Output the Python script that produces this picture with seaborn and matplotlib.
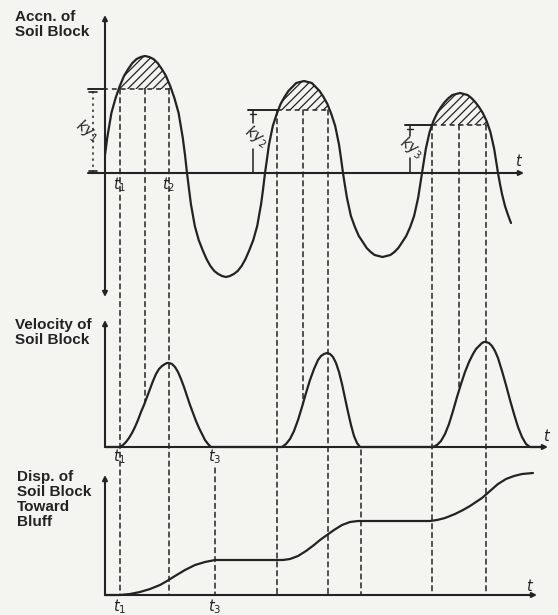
import numpy as np
import pandas as pd
import matplotlib
matplotlib.use("Agg")
import matplotlib.pyplot as plt
import seaborn as sns
from matplotlib.patches import ConnectionPatch

# ---------------- data ----------------
# time measured from the origin of the time axes (arbitrary units)
acc_t = [0, 2.2, 6.4, 10.6, 14.8, 19, 23.2, 27.4, 31.6, 35.8, 40,
         44.2, 48.4, 52.6, 56.8, 61, 65.2, 69.4, 73.6, 77.8, 80, 82,
         84, 85.9, 89.8, 93.7, 97.6, 101.5, 105.4, 109.3, 113.2, 117.1, 121,
         124.9, 128.8, 132.7, 136.6, 140.5, 144.4, 148.3, 152.2, 156.1, 158.1, 160,
         162, 163.9, 167.8, 171.7, 175.6, 179.5, 183.4, 187.3, 191.2, 195.1, 199,
         202.9, 206.8, 210.7, 214.6, 218.5, 222.4, 226.3, 230.2, 234.1, 236.1, 238,
         240, 242, 245.9, 249.9, 253.8, 257.8, 261.7, 265.7, 269.6, 273.6, 277.5,
         281.5, 285.4, 289.4, 293.3, 297.3, 301.2, 305.2, 309.1, 313.1, 315, 317,
         318.9, 320.8, 324.6, 328.4, 332.2, 336, 339.8, 343.6, 347.4, 351.2, 355,
         358.8, 362.6, 366.4, 370.2, 374, 377.8, 381.6, 385.4, 389.2, 391.1, 393,
         395, 397, 400, 403, 406]
acc_v = [18, 35, 60, 75, 87, 97, 104, 110, 114, 116, 117,
         116, 114, 110, 104, 97, 87, 75, 60, 35, 18, 0,
         -16, -31, -53, -67, -77, -86, -93, -98, -101, -103, -104,
         -103, -101, -98, -93, -86, -77, -67, -53, -31, -16, 0,
         14, 28, 47, 59, 69, 76, 82, 86, 90, 91, 92,
         91, 90, 86, 82, 76, 69, 59, 47, 28, 14, 0,
         -13, -25, -43, -54, -63, -69, -75, -79, -82, -83, -84,
         -83, -82, -79, -75, -69, -63, -54, -43, -25, -13, 0,
         12, 24, 41, 52, 60, 66, 71, 75, 78, 79, 80,
         79, 78, 75, 71, 66, 60, 52, 41, 24, 12, 0,
         -11, -21, -33, -42, -50]

vel_t = [0, 15, 18, 21, 24, 27, 30, 33, 36, 39, 42, 45, 48, 51, 54, 57, 60, 62, 64, 67, 70,
         73, 76, 79, 82, 85, 88, 91, 94, 97, 100, 103, 106,
         177, 181, 185, 189, 193, 197, 201, 205, 209, 213, 216, 219, 222, 225, 228, 231,
         234, 237, 240, 243, 246, 249, 252, 255,
         328, 332, 336, 340, 344, 348, 352, 356, 360, 364, 368, 371, 374, 377, 379, 381,
         384, 387, 390, 393, 397, 401, 405, 409, 413, 417, 421, 425, 440]
vel_v = [0, 0, 2, 5, 9, 14, 20, 27, 35, 42, 50, 58, 66, 73, 78, 81, 83, 84, 84, 83, 80,
         75, 68, 60, 51, 42, 34, 26, 19, 13, 7, 3, 0,
         0, 3, 8, 16, 27, 40, 54, 67, 78, 87, 91, 93, 94, 93, 90, 84,
         75, 63, 49, 35, 22, 11, 4, 0,
         0, 2, 6, 13, 23, 36, 50, 63, 75, 85, 93, 98, 101, 104, 105, 105,
         104, 101, 96, 89, 76, 62, 47, 33, 20, 10, 3, 0, 0]

disp_t = [0, 15, 25, 35, 45, 55, 62, 70, 80, 90, 100, 110, 125, 145, 165, 178, 185, 193, 201,
          209, 215, 222, 229, 237, 245, 253, 265, 285, 305, 325, 332, 340, 350, 358, 365, 371,
          377, 385, 393, 401, 409, 417, 428]
disp_v = [0, 0, 1, 3, 6, 10, 14, 19, 25, 30, 33, 35, 35, 35, 35, 35, 36, 39, 44,
          50, 55, 60, 65, 70, 73, 74, 74, 74, 74, 74, 75, 77, 81, 85, 89, 93,
          97, 104, 111, 116, 119, 121, 122]

ky_values = [84, 63, 48]          # yield accelerations ky1, ky2, ky3
ky_labels = ["$ky_1$", "$ky_2$", "$ky_3$"]
t_start = [15, 172, 327]          # t1 of each pulse
t_peak = [40, 198, 354]           # time of peak acceleration
t_end = [64, 223, 381]            # t2 of each pulse
t_stop = [110, 256]               # t3 (block stops)

panel_titles = ["Accn. of\nSoil Block", "Velocity of\nSoil Block",
                "Disp. of\nSoil Block\nToward\nBluff"]

# ---------------- style ----------------
sns.set_theme(style="white")
plt.rcParams["font.family"] = ["Liberation Sans", "DejaVu Sans"]
plt.rcParams["hatch.linewidth"] = 0.9
INK = "#232323"
BG = "#f4f4f1"
DASH = (0, (3.2, 2.6))
W, H = 558, 615

fig = plt.figure(figsize=(W / 100, H / 100), dpi=100)
fig.patch.set_facecolor(BG)


def rect(top, bottom):
    return [0, 1 - bottom / H, 1, (bottom - top) / H]


ax_a = fig.add_axes(rect(0, 300))
ax_a.set_xlim(-105, 453); ax_a.set_ylim(-127, 173)
ax_v = fig.add_axes(rect(300, 462))
ax_v.set_xlim(-105, 453); ax_v.set_ylim(-15, 147)
ax_d = fig.add_axes(rect(462, 615))
ax_d.set_xlim(-105, 453); ax_d.set_ylim(-20, 133)
for ax in (ax_a, ax_v, ax_d):
    ax.set_axis_off()
    ax.patch.set_alpha(0)


def arrow(ax, start, end, style="-|>"):
    ax.annotate("", xy=end, xytext=start, annotation_clip=False,
                arrowprops=dict(arrowstyle=style, color=INK, lw=1.5,
                                mutation_scale=7, shrinkA=0, shrinkB=0))


# axes with arrows
arrow(ax_a, (0, -124), (0, 158), "<|-|>")
arrow(ax_a, (-17, 0), (419, 0))
arrow(ax_v, (0, 0), (0, 127))
arrow(ax_v, (0, 0), (443, 0))
arrow(ax_d, (0, 0), (0, 120))
arrow(ax_d, (0, 0), (432, 0))

# curves
line_kw = dict(color=INK, lw=1.6, sort=False, estimator=None)
sns.lineplot(x=acc_t, y=acc_v, ax=ax_a, **line_kw)
sns.lineplot(x=vel_t, y=vel_v, ax=ax_v, **line_kw)
sns.lineplot(x=disp_t, y=disp_v, ax=ax_d, **line_kw)
for ax in (ax_a, ax_v, ax_d):
    for ln in ax.get_lines():
        ln.set_solid_joinstyle("round")

# hatched areas above the yield acceleration
ta = np.array(acc_t, float)
va = np.array(acc_v, float)
for ky, ts, te in zip(ky_values, t_start, t_end):
    region = (ta >= ts - 9) & (ta <= te + 9)
    ax_a.fill_between(ta, va, ky, where=region & (va >= ky), interpolate=True,
                      facecolor="none", edgecolor=INK, hatch="////", linewidth=0)

# yield level lines and ky dimension marks
dim_t = [-12, 148, 305]
label_pos = [(-17, 43), (151, 37), (307, 26)]
gaps = [0, 13, 11]
for i, ky in enumerate(ky_values):
    d = dim_t[i]
    solid_end = d + 10 if i == 0 else t_start[i]
    ax_a.plot([d - 5, solid_end], [ky, ky], color=INK, lw=1.4)
    ax_a.plot([solid_end, t_end[i]], [ky, ky], color=INK, lw=1.1, ls=DASH)
    lx, lv = label_pos[i]
    if i == 0:
        ax_a.plot([d, d], [0, ky], color=INK, lw=1.1, ls=(0, (1.5, 2.5)))
        ax_a.plot([d - 4, d + 4], [ky - 3, ky - 3], color=INK, lw=1.2)
        ax_a.plot([d - 4, d + 4], [2, 2], color=INK, lw=1.2)
    else:
        ax_a.plot([d, d], [ky, lv + gaps[i]], color=INK, lw=1.1)
        ax_a.plot([d, d], [lv - gaps[i], 0], color=INK, lw=1.1)
        ax_a.plot([d - 3, d + 3], [ky - 4, ky - 4], color=INK, lw=1.0)
    ax_a.text(lx, lv, ky_labels[i], rotation=-35, ha="center", va="center",
              fontsize=10.5, color=INK)

# dashed construction lines running through the panels
vt = np.array(vel_t, float)
vv = np.array(vel_v, float)
cp_kw = dict(color=INK, lw=1.1, linestyle=DASH, shrinkA=0, shrinkB=0)
for ky, ts, tp, te in zip(ky_values, t_start, t_peak, t_end):
    for t in (ts, te):
        fig.add_artist(ConnectionPatch((t, ky), (t, 0), coordsA=ax_a.transData,
                                       coordsB=ax_d.transData, **cp_kw))
    fig.add_artist(ConnectionPatch((tp, ky), (tp, float(np.interp(tp, vt, vv))),
                                   coordsA=ax_a.transData, coordsB=ax_v.transData, **cp_kw))
for t, v0 in zip(t_stop, [-21, -3]):
    fig.add_artist(ConnectionPatch((t, v0), (t, 0), coordsA=ax_v.transData,
                                   coordsB=ax_d.transData, **cp_kw))

# time labels
tkw = dict(ha="center", va="center", fontsize=10.5, color=INK)
ax_a.text(t_start[0], -12, "$t_1$", **tkw)
ax_a.text(t_end[0], -12, "$t_2$", **tkw)
ax_v.text(t_start[0], -10, "$t_1$", **tkw)
ax_v.text(t_stop[0], -10, "$t_3$", **tkw)
ax_d.text(t_start[0], -12, "$t_1$", **tkw)
ax_d.text(t_stop[0], -12, "$t_3$", **tkw)
ax_a.text(414, 12, "$t$", **tkw)
ax_v.text(442, 11, "$t$", **tkw)
ax_d.text(425, 9, "$t$", **tkw)

# panel titles
for (x, y), s in zip([(15, 10), (15, 318), (17, 470)], panel_titles):
    fig.text(x / W, 1 - y / H, s, ha="left", va="top", fontsize=11,
             fontweight="bold", color=INK, linespacing=1.08)

fig.savefig("out.png", dpi=100, facecolor=BG)
